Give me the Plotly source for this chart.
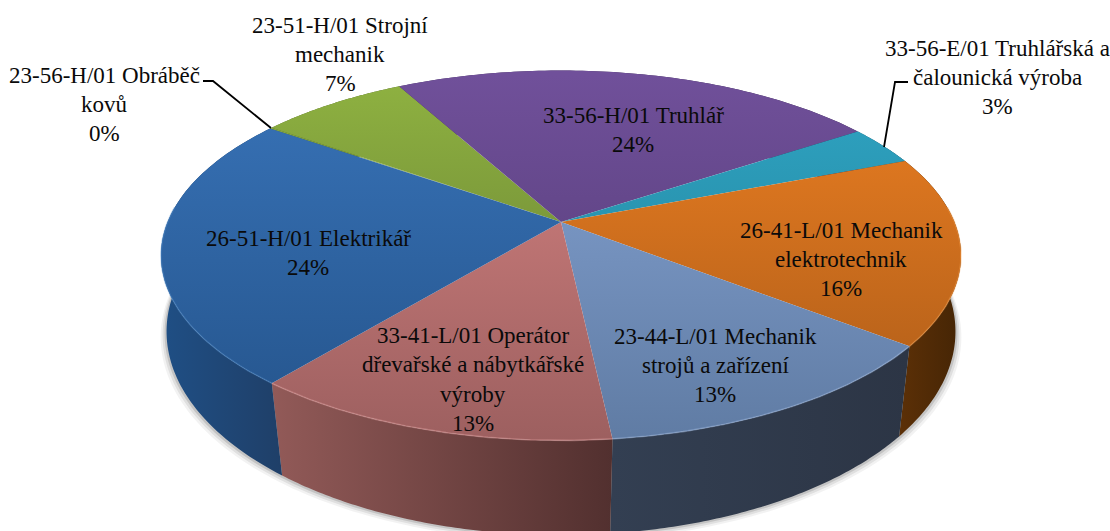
import numpy as np
import plotly.graph_objects as go

# ---- data (clockwise from the start angle) ----
categories = ["23-56-H/01 Obráběč kovů", "23-51-H/01 Strojní mechanik", "33-56-H/01 Truhlář",
              "33-56-E/01 Truhlářská a čalounická výroba", "26-41-L/01 Mechanik elektrotechnik",
              "23-44-L/01 Mechanik strojů a zařízení", "33-41-L/01 Operátor dřevařské a nábytkářské výroby",
              "26-51-H/01 Elektrikář"]
shares = [0.1, 7.2, 23.5, 3.5, 16.5, 12.7, 12.6, 23.9]

top_hi = ["#8fb241", "#8fb241", "#70509a", "#2fa5c4", "#ec7f22", "#86a4d4", "#d68382", "#3873b8"]
top_lo = ["#5f7530", "#5f7530", "#4f3870", "#217b92", "#a95a18", "#5f7ba3", "#9c5f5f", "#24538a"]
rim_col = ["#a5c45c", "#a5c45c", "#8a6cb0", "#55bdd8", "#f59a45", "#a0bbe4", "#e4a0a0", "#4f8ccc"]
side_a = ["#556b2a", "#556b2a", "#3f2c5c", "#1c6074", "#5c3007", "#333f52", "#925a58", "#1f4f85"]
side_b = ["#455722", "#455722", "#33234a", "#174f60", "#452505", "#2c3545", "#52302f", "#1f3f68"]

label_lines = [
    (104, [75, 104, 133], ["23-56-H/01 Obráběč", "kovů", "0%"]),
    (340, [25, 54, 83], ["23-51-H/01 Strojní", "mechanik", "7%"]),
    (633, [115, 144], ["33-56-H/01 Truhlář", "24%"]),
    (997, [48, 77, 106], ["33-56-E/01 Truhlářská a", "čalounická výroba", "3%"]),
    (841, [230, 259, 288], ["26-41-L/01 Mechanik", "elektrotechnik", "16%"]),
    (715, [336, 365, 394], ["23-44-L/01 Mechanik", "strojů a zařízení", "13%"]),
    (473, [335, 364, 394, 423], ["33-41-L/01 Operátor", "dřevařské a nábytkářské", "výroby", "13%"]),
    (308, [238, 267], ["26-51-H/01 Elektrikář", "24%"]),
]
leaders = [([203, 213, 271], [81, 81, 128]), ([908, 895, 884], [82, 82, 147])]

START = -54.76
CX, CY, K = 561.0, 222.0, 0.181
A, B = 393.4, 178.9
BOT_CY, BOT_K, BOT_A, BOT_B = 301.0, 0.15, 390.0, 199.0


def project(theta_deg, bottom=False):
    t = np.radians(theta_deg)
    u, v = np.sin(t), np.cos(t)
    if bottom:
        d = 1 + BOT_K * v
        return CX + BOT_A * u / d, BOT_CY - BOT_B * v / d
    d = 1 + K * v
    return CX + A * u / d, CY - B * v / d


fig = go.Figure()

# soft shadow under the drum
ring = np.linspace(60, 300, 200)
for off, alpha in [(6, 0.05), (4, 0.08), (2, 0.12)]:
    bx, by = project(ring, True)
    tx, ty = project(ring[::-1])
    fig.add_trace(go.Scatter(x=np.r_[bx + off * np.sin(np.radians(ring)), tx],
                             y=np.r_[by + off, ty], mode="none", fill="toself",
                             fillcolor=f"rgba(0,0,0,{alpha})", hoverinfo="skip"))

edges = START + np.cumsum([0] + shares) * 3.6

# drum sides
for i in range(len(shares)):
    arc = np.linspace(edges[i], edges[i + 1], 80)
    tx, ty = project(arc)
    bx, by = project(arc[::-1], True)
    fig.add_trace(go.Scatter(
        x=np.r_[tx, bx], y=np.r_[ty, by], mode="none", fill="toself", hoverinfo="skip",
        fillgradient=dict(type="horizontal",
                          colorscale=[[0, side_a[i]], [1, side_b[i]]])))

# top faces
for i in range(len(shares)):
    arc = np.linspace(edges[i], edges[i + 1], 80)
    tx, ty = project(arc)
    fig.add_trace(go.Scatter(
        x=np.r_[CX, tx, CX], y=np.r_[CY, ty, CY], mode="none", fill="toself", name=categories[i],
        hoverinfo="skip",
        fillgradient=dict(type="vertical", start=75, stop=445,
                          colorscale=[[0, top_hi[i]], [1, top_lo[i]]])))

# bevel highlight along the front of the rim
for i in range(len(shares)):
    arc = np.linspace(edges[i], edges[i + 1], 80)
    arc = arc[(np.mod(arc, 360) > 85) & (np.mod(arc, 360) < 275)]
    if arc.size < 2:
        continue
    tx, ty = project(arc)
    fig.add_trace(go.Scatter(x=tx, y=ty, mode="lines", opacity=0.4, hoverinfo="skip",
                             line=dict(color=rim_col[i], width=1.6)))

for lx, ly in leaders:
    fig.add_trace(go.Scatter(x=lx, y=ly, mode="lines", hoverinfo="skip",
                             line=dict(color="black", width=1.8)))

for cx, ys, lines in label_lines:
    for y, t in zip(ys, lines):
        fig.add_annotation(x=cx, y=y, text=t, showarrow=False, xanchor="center", yanchor="middle",
                           font=dict(family="Liberation Serif", size=23, color="#0a0a0a"))

fig.update_layout(
    width=1110, height=531, margin=dict(l=0, r=0, t=0, b=0), showlegend=False,
    paper_bgcolor="white", plot_bgcolor="white",
    xaxis=dict(range=[0, 1110], visible=False, fixedrange=True),
    yaxis=dict(range=[531, 0], visible=False, fixedrange=True),
)
fig.write_html("out.html", config={"displayModeBar": False},
               post_script="document.body.style.margin='0';document.documentElement.style.overflow='hidden';")
